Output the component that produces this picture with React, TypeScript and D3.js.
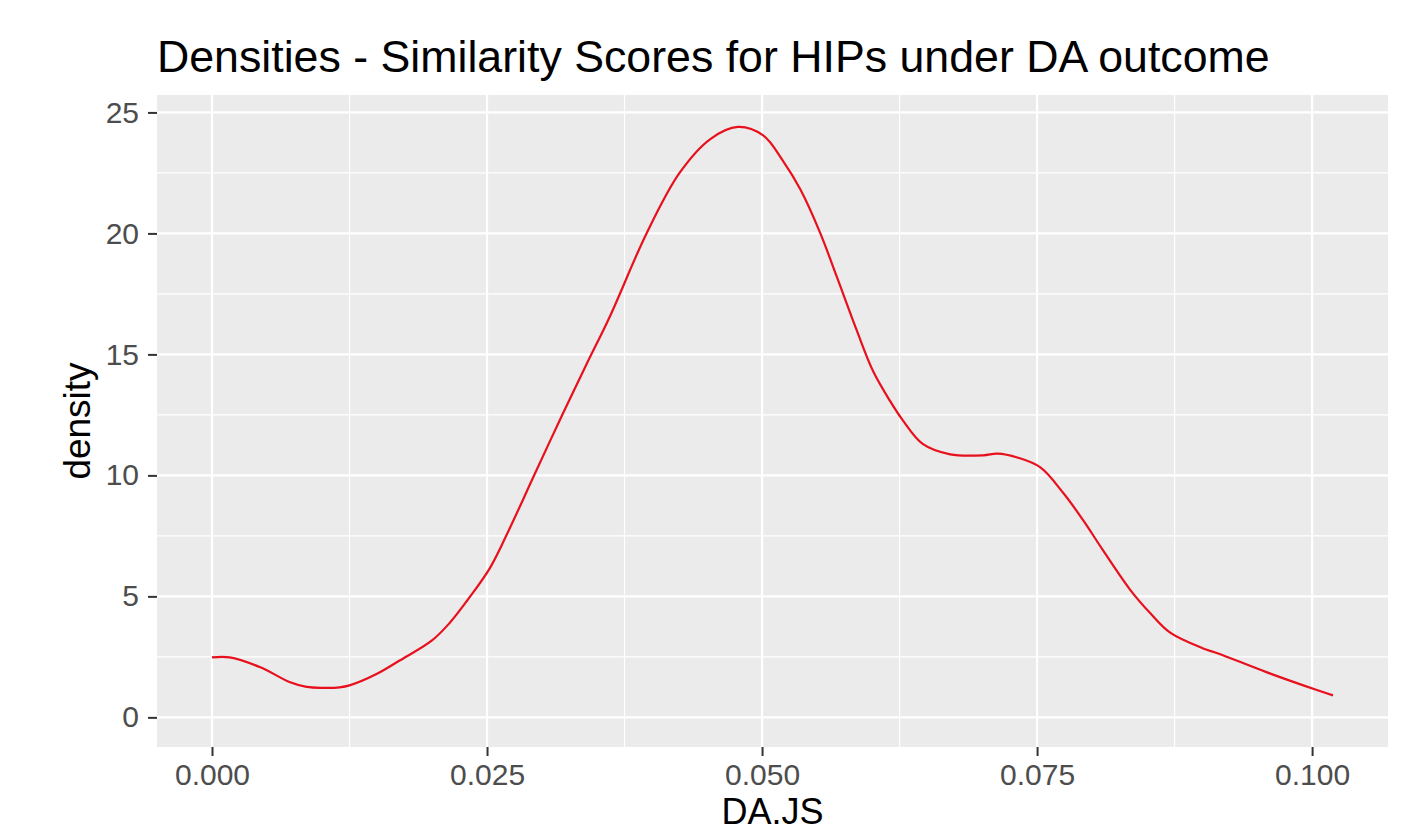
import React, { useEffect, useRef } from 'react';
import * as d3 from 'd3';

// density estimate (DA.JS vs density)
const densX = [
  0.0, 0.0016, 0.0044, 0.0071, 0.0086, 0.01, 0.0116, 0.0125, 0.015, 0.0171,
  0.02, 0.0216, 0.0232, 0.0253, 0.0271, 0.0292, 0.0316, 0.034, 0.0362,
  0.0395, 0.0425, 0.0453, 0.0478, 0.0501, 0.0519, 0.0535, 0.0553, 0.0568, 0.0586,
  0.0601, 0.0616, 0.0628, 0.0646, 0.0671, 0.0701, 0.0714, 0.0732, 0.0753, 0.0774,
  0.0792, 0.081, 0.0835, 0.0853, 0.0871, 0.0901, 0.0914, 0.0959, 0.1005, 0.1019
];
const densY = [
  2.48, 2.48, 2.07, 1.45, 1.26, 1.22, 1.24, 1.32, 1.8, 2.36,
  3.18, 3.9, 4.83, 6.2, 7.85, 9.92, 12.27, 14.55, 16.6,
  20.0, 22.5, 23.9, 24.4, 24.05, 23.0, 21.8, 20.0, 18.2, 16.0,
  14.3, 13.1, 12.27, 11.3, 10.87, 10.83, 10.9, 10.74, 10.33, 9.26,
  8.14, 6.9, 5.25, 4.3, 3.5, 2.85, 2.65, 1.86, 1.12, 0.91
];

const xTicks = [0, 0.025, 0.05, 0.075, 0.1];
const xMinor = [0.0125, 0.0375, 0.0625, 0.0875];
const yTicks = [0, 5, 10, 15, 20, 25];
const yMinor = [2.5, 7.5, 12.5, 17.5, 22.5];

const titleText = 'Densities - Similarity Scores for HIPs under DA outcome';
const xLabel = 'DA.JS';
const yLabel = 'density';

const W = 1403;
const H = 833;
const FONT = '"Liberation Sans", Arial, sans-serif';

const App = () => {
  const svgRef = useRef<SVGSVGElement>(null);

  useEffect(() => {
    const panel = { left: 157, right: 1388, top: 95, bottom: 747 };

    const svg = d3.select(svgRef.current);
    svg.selectAll('*').remove();

    const x = d3.scaleLinear().domain([-0.005, 0.1069]).range([panel.left, panel.right]);
    const y = d3.scaleLinear().domain([-1.225, 25.72]).range([panel.bottom, panel.top]);

    svg.append('rect')
      .attr('width', W)
      .attr('height', H)
      .attr('fill', 'white');

    svg.append('rect')
      .attr('x', panel.left)
      .attr('y', panel.top)
      .attr('width', panel.right - panel.left)
      .attr('height', panel.bottom - panel.top)
      .attr('fill', '#EBEBEB');

    const grid = svg.append('g');
    // minor grid first, then major
    grid.selectAll('line.ym')
      .data(yMinor)
      .enter()
      .append('line')
      .attr('x1', panel.left).attr('x2', panel.right)
      .attr('y1', d => y(d)).attr('y2', d => y(d))
      .attr('stroke', 'white').attr('stroke-width', 1.2);
    grid.selectAll('line.xm')
      .data(xMinor)
      .enter()
      .append('line')
      .attr('y1', panel.top).attr('y2', panel.bottom)
      .attr('x1', d => x(d)).attr('x2', d => x(d))
      .attr('stroke', 'white').attr('stroke-width', 1.2);
    grid.selectAll('line.yM')
      .data(yTicks)
      .enter()
      .append('line')
      .attr('x1', panel.left).attr('x2', panel.right)
      .attr('y1', d => y(d)).attr('y2', d => y(d))
      .attr('stroke', 'white').attr('stroke-width', 2.2);
    grid.selectAll('line.xM')
      .data(xTicks)
      .enter()
      .append('line')
      .attr('y1', panel.top).attr('y2', panel.bottom)
      .attr('x1', d => x(d)).attr('x2', d => x(d))
      .attr('stroke', 'white').attr('stroke-width', 2.2);

    const pts = densX.map((d, i) => [d, densY[i]] as [number, number]);
    const line = d3.line<[number, number]>()
      .x(d => x(d[0]))
      .y(d => y(d[1]))
      .curve(d3.curveCatmullRom.alpha(0.5));

    svg.append('path')
      .datum(pts)
      .attr('d', line)
      .attr('fill', 'none')
      .attr('stroke', '#E8101C')
      .attr('stroke-width', 2.2);

    // axes, ggplot style: short dark ticks, grey labels
    const xAxis = svg.append('g')
      .attr('transform', `translate(0,${panel.bottom})`)
      .call(d3.axisBottom(x).tickValues(xTicks).tickFormat(d3.format('.3f')).tickSize(9).tickPadding(8));
    const yAxis = svg.append('g')
      .attr('transform', `translate(${panel.left},0)`)
      .call(d3.axisLeft(y).tickValues(yTicks).tickSize(9).tickPadding(9));

    [xAxis, yAxis].forEach(ax => {
      ax.select('.domain').remove();
      ax.selectAll('line').attr('stroke', '#333333').attr('stroke-width', 2);
      ax.selectAll('text')
        .style('font-family', FONT)
        .style('font-size', '30px')
        .attr('fill', '#4D4D4D');
    });

    svg.append('text')
      .attr('x', panel.left)
      .attr('y', 72)
      .style('font-family', FONT)
      .style('font-size', '44.7px')
      .attr('fill', 'black')
      .text(titleText);

    svg.append('text')
      .attr('x', (panel.left + panel.right) / 2)
      .attr('y', 824)
      .attr('text-anchor', 'middle')
      .style('font-family', FONT)
      .style('font-size', '36px')
      .attr('fill', 'black')
      .text(xLabel);

    svg.append('text')
      .attr('transform', `translate(90,${(panel.top + panel.bottom) / 2}) rotate(-90)`)
      .attr('text-anchor', 'middle')
      .style('font-family', FONT)
      .style('font-size', '37px')
      .attr('fill', 'black')
      .text(yLabel);
  }, []);

  return (
    <div style={{ position: 'absolute', left: 0, top: 0, width: W, height: H }}>
      <svg ref={svgRef} width={W} height={H} style={{ display: 'block' }}></svg>
    </div>
  );
};

export default App;
